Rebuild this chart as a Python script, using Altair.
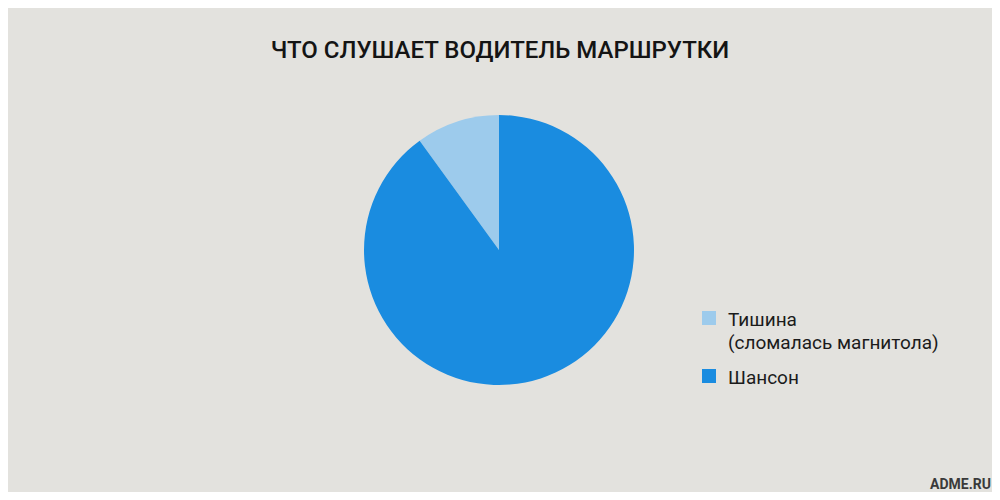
import altair as alt
import pandas as pd

categories = ["Тишина\n(сломалась магнитола)", "Шансон"]
legend_keys = ["Тишина", "Шансон"]
values = [10, 90]
slice_order = [1, 0]
colors = ["#9dcbec", "#1a8ce0"]
title_text = "ЧТО СЛУШАЕТ ВОДИТЕЛЬ МАРШРУТКИ"
credit_text = "ADME.RU"

df = pd.DataFrame({"label": categories, "key": legend_keys, "value": values, "order": slice_order})

W, H = 984, 484
BG = "#e3e2de"

color_scale = alt.Scale(domain=legend_keys, range=colors)

pie = alt.Chart(df).mark_arc(outerRadius=135, stroke=None).encode(
    theta=alt.Theta("value:Q", stack=True),
    order=alt.Order("order:Q"),
    color=alt.Color("key:N", scale=color_scale, legend=None),
    x=alt.value(491),
    y=alt.value(242),
)

leg_y = alt.Y("key:N", scale=alt.Scale(type="point", domain=legend_keys, range=[310, 368], padding=0), axis=None)

leg_sq = alt.Chart(df).mark_square(size=196, opacity=1).encode(
    x=alt.value(701),
    y=leg_y,
    color=alt.Color("key:N", scale=color_scale, legend=None),
)

leg_txt = alt.Chart(df).mark_text(
    align="left", baseline="alphabetic", dy=8, fontSize=19, font="Roboto",
    color="#1b1b1b", lineBreak="\n", lineHeight=23,
).encode(
    x=alt.value(720),
    y=leg_y,
    text="label:N",
)

title = alt.Chart(pd.DataFrame({"t": [title_text]})).mark_text(
    align="center", baseline="alphabetic", fontSize=24, font="Roboto", fontWeight=500, color="#141414",
).encode(x=alt.value(492), y=alt.value(50), text="t:N")

credit = alt.Chart(pd.DataFrame({"t": [credit_text]})).mark_text(
    align="right", baseline="alphabetic", fontSize=14, font="Roboto", fontWeight="bold", color="#3a3a3a",
).encode(x=alt.value(983), y=alt.value(481), text="t:N")

chart = alt.layer(pie, leg_sq, leg_txt, title, credit).properties(
    width=W, height=H, padding=0, autosize=alt.AutoSizeParams(type="none")
).configure(background=BG).configure_view(stroke=None)

chart.save("out.html", embed_options={"renderer": "svg", "actions": False})
